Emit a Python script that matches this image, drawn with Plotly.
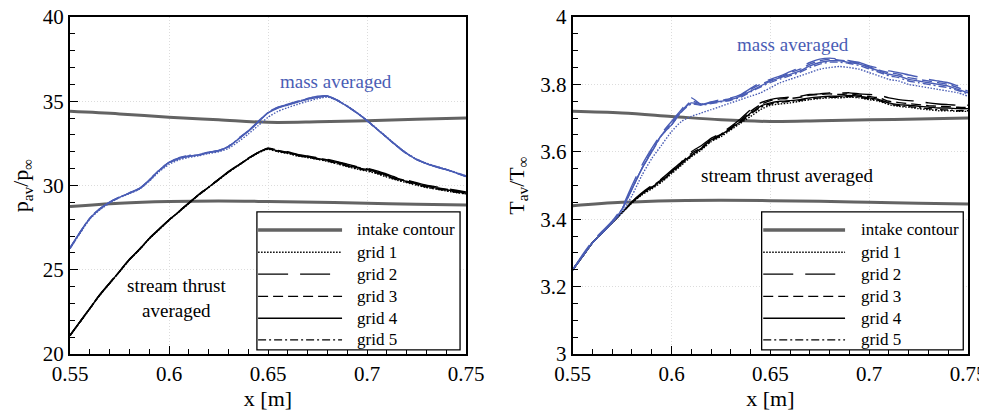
import plotly.graph_objects as go
from plotly.subplots import make_subplots

# ---------------- data ----------------
X = [0.55, 0.555, 0.56, 0.565, 0.57, 0.575, 0.58, 0.585, 0.59, 0.595,
     0.60, 0.605, 0.61, 0.615, 0.62, 0.625, 0.63, 0.635, 0.64, 0.645,
     0.65, 0.655, 0.66, 0.665, 0.67, 0.675, 0.68, 0.685, 0.69, 0.695,
     0.70, 0.705, 0.71, 0.715, 0.72, 0.725, 0.73, 0.735, 0.74, 0.745, 0.75]
X_INTAKE = [0.55, 0.575, 0.60, 0.625, 0.65, 0.675, 0.70, 0.725, 0.75]

# left panel: pressure ratio
p_intake_upper = [34.4, 34.25, 34.05, 33.9, 33.75, 33.78, 33.85, 33.93, 34.0]
p_intake_lower = [28.75, 28.95, 29.05, 29.08, 29.05, 29.0, 28.95, 28.88, 28.85]

p_mass_g1 = [26.25, 27.15, 28.0, 28.55, 28.95, 29.28, 29.52, 29.78, 30.25, 30.82, 31.25, 31.52, 31.66, 31.76, 31.9, 32.0, 32.2, 32.6, 33.05, 33.55, 34.05, 34.4, 34.62, 34.82, 35.0, 35.15, 35.25, 35.05, 34.72, 34.32, 33.87, 33.37, 32.87, 32.37, 31.92, 31.57, 31.32, 31.13, 30.96, 30.77, 30.57]
p_mass_g2 = [26.3, 27.22, 28.08, 28.62, 29.02, 29.32, 29.57, 29.83, 30.33, 30.93, 31.38, 31.64, 31.76, 31.84, 31.98, 32.08, 32.33, 32.8, 33.25, 33.8, 34.35, 34.65, 34.82, 35.0, 35.18, 35.3, 35.32, 35.07, 34.72, 34.3, 33.85, 33.35, 32.85, 32.35, 31.9, 31.55, 31.3, 31.1, 30.93, 30.74, 30.53]
p_mass_g3 = [26.27, 27.18, 28.04, 28.6, 29.0, 29.3, 29.55, 29.8, 30.3, 30.88, 31.33, 31.6, 31.74, 31.82, 31.96, 32.06, 32.3, 32.76, 33.22, 33.77, 34.32, 34.62, 34.8, 34.97, 35.15, 35.25, 35.31, 35.06, 34.71, 34.31, 33.86, 33.36, 32.86, 32.36, 31.91, 31.56, 31.31, 31.12, 30.95, 30.76, 30.56]
p_mass_g4 = [26.28, 27.2, 28.05, 28.6, 29.0, 29.3, 29.55, 29.8, 30.3, 30.9, 31.35, 31.6, 31.72, 31.8, 31.95, 32.05, 32.3, 32.75, 33.2, 33.75, 34.3, 34.6, 34.78, 34.95, 35.12, 35.22, 35.3, 35.05, 34.7, 34.3, 33.85, 33.35, 32.85, 32.35, 31.9, 31.55, 31.3, 31.12, 30.95, 30.75, 30.55]
p_mass_g5 = [26.29, 27.21, 28.06, 28.61, 29.01, 29.31, 29.56, 29.82, 30.32, 30.91, 31.37, 31.65, 31.78, 31.83, 31.97, 32.07, 32.31, 32.77, 33.22, 33.78, 34.33, 34.63, 34.8, 34.98, 35.16, 35.26, 35.3, 35.04, 34.69, 34.29, 33.84, 33.34, 32.84, 32.34, 31.89, 31.54, 31.29, 31.11, 30.94, 30.74, 30.54]

p_st_g1 = [21.08, 21.88, 22.68, 23.48, 24.18, 24.88, 25.58, 26.18, 26.83, 27.38, 27.93, 28.43, 28.93, 29.43, 29.88, 30.33, 30.78, 31.18, 31.58, 31.92, 32.15, 32.0, 31.9, 31.75, 31.65, 31.55, 31.43, 31.28, 31.12, 30.97, 30.85, 30.7, 30.5, 30.32, 30.17, 30.02, 29.88, 29.78, 29.68, 29.58, 29.5]
p_st_g2 = [21.12, 21.92, 22.72, 23.52, 24.22, 24.92, 25.62, 26.22, 26.87, 27.42, 27.97, 28.47, 28.97, 29.47, 29.92, 30.37, 30.82, 31.22, 31.62, 31.97, 32.22, 32.1, 32.0, 31.85, 31.75, 31.65, 31.55, 31.42, 31.27, 31.12, 31.02, 30.87, 30.67, 30.47, 30.32, 30.17, 30.02, 29.92, 29.82, 29.72, 29.62]
p_st_g3 = [21.1, 21.9, 22.7, 23.5, 24.2, 24.9, 25.6, 26.2, 26.85, 27.4, 27.95, 28.45, 28.95, 29.45, 29.9, 30.35, 30.8, 31.2, 31.6, 31.95, 32.2, 32.08, 31.98, 31.82, 31.72, 31.62, 31.52, 31.38, 31.23, 31.08, 30.98, 30.83, 30.63, 30.43, 30.28, 30.13, 29.98, 29.88, 29.78, 29.68, 29.58]
p_st_g4 = [21.1, 21.9, 22.7, 23.5, 24.2, 24.9, 25.6, 26.2, 26.85, 27.4, 27.95, 28.45, 28.95, 29.45, 29.9, 30.35, 30.8, 31.2, 31.6, 31.95, 32.2, 32.05, 31.95, 31.8, 31.7, 31.6, 31.5, 31.35, 31.2, 31.05, 30.95, 30.8, 30.6, 30.4, 30.25, 30.1, 29.95, 29.85, 29.75, 29.65, 29.55]
p_st_g5 = [21.09, 21.89, 22.69, 23.49, 24.19, 24.89, 25.59, 26.19, 26.84, 27.39, 27.94, 28.44, 28.94, 29.44, 29.89, 30.34, 30.79, 31.19, 31.59, 31.94, 32.18, 32.02, 31.92, 31.77, 31.67, 31.57, 31.46, 31.31, 31.15, 31.0, 30.9, 30.74, 30.54, 30.35, 30.2, 30.05, 29.9, 29.8, 29.7, 29.6, 29.5]

# right panel: temperature ratio
t_intake_upper = [3.72, 3.715, 3.705, 3.695, 3.69, 3.692, 3.695, 3.697, 3.70]
t_intake_lower = [3.44, 3.45, 3.455, 3.456, 3.455, 3.453, 3.45, 3.447, 3.445]

t_mass_g1 = [3.25, 3.29, 3.33, 3.36, 3.39, 3.42, 3.47, 3.53, 3.58, 3.62, 3.66, 3.69, 3.705, 3.715, 3.725, 3.735, 3.745, 3.755, 3.765, 3.775, 3.79, 3.805, 3.815, 3.825, 3.835, 3.845, 3.85, 3.853, 3.85, 3.845, 3.835, 3.825, 3.815, 3.81, 3.80, 3.795, 3.79, 3.785, 3.78, 3.775, 3.765]
t_mass_g2 = [3.25, 3.295, 3.335, 3.365, 3.395, 3.435, 3.5, 3.56, 3.61, 3.655, 3.69, 3.725, 3.76, 3.74, 3.748, 3.755, 3.76, 3.77, 3.788, 3.805, 3.815, 3.825, 3.838, 3.85, 3.865, 3.875, 3.878, 3.875, 3.87, 3.865, 3.855, 3.848, 3.84, 3.835, 3.828, 3.822, 3.815, 3.81, 3.805, 3.795, 3.785]
t_mass_g3 = [3.25, 3.29, 3.33, 3.36, 3.39, 3.43, 3.49, 3.55, 3.605, 3.65, 3.685, 3.72, 3.75, 3.742, 3.747, 3.752, 3.758, 3.768, 3.785, 3.8, 3.812, 3.822, 3.835, 3.845, 3.86, 3.87, 3.875, 3.872, 3.868, 3.862, 3.852, 3.842, 3.835, 3.83, 3.82, 3.815, 3.81, 3.805, 3.8, 3.79, 3.78]
t_mass_g4 = [3.25, 3.29, 3.33, 3.36, 3.39, 3.43, 3.49, 3.55, 3.60, 3.65, 3.68, 3.72, 3.745, 3.74, 3.745, 3.75, 3.755, 3.765, 3.78, 3.795, 3.81, 3.82, 3.83, 3.84, 3.855, 3.865, 3.87, 3.87, 3.865, 3.86, 3.85, 3.84, 3.83, 3.825, 3.815, 3.81, 3.805, 3.80, 3.795, 3.785, 3.775]
t_mass_g5 = [3.25, 3.29, 3.33, 3.36, 3.39, 3.43, 3.49, 3.55, 3.6, 3.648, 3.68, 3.718, 3.742, 3.738, 3.743, 3.748, 3.753, 3.762, 3.778, 3.792, 3.806, 3.816, 3.826, 3.836, 3.85, 3.86, 3.866, 3.866, 3.862, 3.856, 3.846, 3.836, 3.826, 3.82, 3.81, 3.805, 3.8, 3.795, 3.79, 3.782, 3.772]

t_st_g1 = [3.25, 3.29, 3.33, 3.36, 3.39, 3.42, 3.448, 3.472, 3.49, 3.51, 3.535, 3.56, 3.585, 3.605, 3.63, 3.645, 3.665, 3.685, 3.705, 3.725, 3.738, 3.742, 3.745, 3.75, 3.755, 3.758, 3.76, 3.76, 3.762, 3.76, 3.755, 3.75, 3.74, 3.735, 3.732, 3.728, 3.725, 3.722, 3.722, 3.72, 3.72]
t_st_g2 = [3.25, 3.29, 3.33, 3.36, 3.39, 3.42, 3.452, 3.478, 3.5, 3.52, 3.545, 3.57, 3.6, 3.618, 3.64, 3.655, 3.675, 3.698, 3.725, 3.745, 3.755, 3.76, 3.762, 3.765, 3.77, 3.772, 3.775, 3.774, 3.775, 3.772, 3.77, 3.768, 3.76, 3.755, 3.752, 3.75, 3.745, 3.742, 3.74, 3.738, 3.738]
t_st_g3 = [3.25, 3.29, 3.33, 3.36, 3.39, 3.42, 3.45, 3.476, 3.497, 3.518, 3.542, 3.568, 3.595, 3.612, 3.637, 3.652, 3.672, 3.693, 3.72, 3.74, 3.752, 3.757, 3.758, 3.762, 3.768, 3.77, 3.772, 3.77, 3.772, 3.768, 3.764, 3.76, 3.75, 3.746, 3.743, 3.74, 3.737, 3.735, 3.734, 3.732, 3.732]
t_st_g4 = [3.25, 3.29, 3.33, 3.36, 3.39, 3.42, 3.45, 3.475, 3.495, 3.515, 3.54, 3.565, 3.59, 3.61, 3.635, 3.65, 3.67, 3.69, 3.715, 3.735, 3.745, 3.75, 3.752, 3.755, 3.76, 3.763, 3.765, 3.765, 3.767, 3.765, 3.76, 3.755, 3.745, 3.74, 3.738, 3.735, 3.733, 3.73, 3.73, 3.728, 3.728]
t_st_g5 = [3.25, 3.29, 3.33, 3.36, 3.39, 3.42, 3.449, 3.474, 3.493, 3.513, 3.538, 3.563, 3.588, 3.608, 3.632, 3.648, 3.668, 3.688, 3.712, 3.732, 3.742, 3.747, 3.75, 3.752, 3.757, 3.76, 3.762, 3.762, 3.764, 3.762, 3.757, 3.752, 3.742, 3.737, 3.734, 3.731, 3.728, 3.725, 3.724, 3.722, 3.722]

LEGEND_LABELS = ["intake contour", "grid 1", "grid 2", "grid 3", "grid 4", "grid 5"]

# ---------------- styles ----------------
BLUE = "#4a5db5"
GRAY = "#636363"
FONT = "Liberation Serif, Times New Roman, DejaVu Serif, serif"
DASHES = ["1.5px,1.5px", "30px,12px", "10px,5px", "solid", "8px,3px,2px,3px"]

fig = make_subplots(rows=1, cols=2)

def add_family(col, ys, color):
    for y, d in zip(ys, DASHES):
        fig.add_trace(go.Scatter(x=X, y=y, mode="lines", showlegend=False,
                                 line=dict(color=color, width=1.4, dash=d, shape="spline", smoothing=0.6)),
                      row=1, col=col)

for col, up, lo in [(1, p_intake_upper, p_intake_lower), (2, t_intake_upper, t_intake_lower)]:
    for y in (up, lo):
        fig.add_trace(go.Scatter(x=X_INTAKE, y=y, mode="lines", showlegend=False,
                                 line=dict(color=GRAY, width=3, shape="spline")), row=1, col=col)

add_family(1, [p_st_g1, p_st_g2, p_st_g3, p_st_g4, p_st_g5], "black")
add_family(1, [p_mass_g1, p_mass_g2, p_mass_g3, p_mass_g4, p_mass_g5], BLUE)
add_family(2, [t_st_g1, t_st_g2, t_st_g3, t_st_g4, t_st_g5], "black")
add_family(2, [t_mass_g1, t_mass_g2, t_mass_g3, t_mass_g4, t_mass_g5], BLUE)

# page body has an 8px margin: size the figure to the window and place the
# plot areas on the reference pixels
OFF = 8
W, H = 987 - OFF, 411 - OFF
xd1 = [(70 - OFF) / W, (466 - OFF) / W]
xd2 = [(572.7 - OFF) / W, (968 - OFF) / W]
yd = [(H - (354 - OFF)) / H, (H - (17 - OFF)) / H]

axis_common = dict(showline=True, linecolor="black", linewidth=2, mirror=True,
                   ticks="inside", ticklen=8, tickwidth=1.3, tickcolor="black",
                   showgrid=True, gridcolor="#dcdcdc", griddash="1px,2px", gridwidth=1,
                   zeroline=False, automargin=False, ticklabeloverflow="allow",
                   tickfont=dict(family=FONT, size=21, color="black"))

fig.update_xaxes(**axis_common, range=[0.55, 0.75], tickvals=[0.55, 0.6, 0.65, 0.7, 0.75],
                 ticktext=["0.55", "0.6", "0.65", "0.7", "0.75"],
                 minor=dict(ticks="inside", ticklen=5, tickcolor="black", dtick=0.01, tick0=0.55, showgrid=False),
                 title=dict(text="x [m]", font=dict(family=FONT, size=22, color="black"), standoff=3))
fig.update_xaxes(domain=xd1, row=1, col=1)
fig.update_xaxes(domain=xd2, row=1, col=2)

fig.update_yaxes(**axis_common)
fig.update_yaxes(domain=yd, range=[20, 40], tickvals=[20, 25, 30, 35, 40],
                 minor=dict(ticks="inside", ticklen=5, tickcolor="black", dtick=1, tick0=20, showgrid=False),
                 title=dict(text="p<sub>av</sub>/p<sub>∞</sub>", font=dict(family=FONT, size=22, color="black"), standoff=10),
                 row=1, col=1)
fig.update_yaxes(domain=yd, range=[3, 4], tickvals=[3, 3.2, 3.4, 3.6, 3.8, 4],
                 ticktext=["3", "3.2", "3.4", "3.6", "3.8", "4"],
                 minor=dict(ticks="inside", ticklen=5, tickcolor="black", dtick=0.05, tick0=3, showgrid=False),
                 title=dict(text="T<sub>av</sub>/T<sub>∞</sub>", font=dict(family=FONT, size=22, color="black"), standoff=10),
                 row=1, col=2)

# text labels
ann = [
    dict(x=0.6843, y=36.16, xref="x", yref="y", text="mass averaged", font=dict(color=BLUE)),
    dict(x=0.6039, y=23.3, xref="x", yref="y", text="stream thrust<br>averaged", font=dict(color="black")),
    dict(x=0.6616, y=3.917, xref="x2", yref="y2", text="mass averaged", font=dict(color=BLUE)),
    dict(x=0.6583, y=3.531, xref="x2", yref="y2", text="stream thrust averaged", font=dict(color="black")),
]
for a in ann:
    a["font"].update(family=FONT, size=19)
    a["showarrow"] = False
    fig.add_annotation(**a)

# hand-drawn legends (long line samples as in the reference)
shapes = []
entry_y = [0.368, 0.302, 0.237, 0.171, 0.106, 0.042]
legend_geom = [("x domain", "y domain", 0.472, 0.985, 0.475, 0.687, 0.72),
               ("x2 domain", "y2 domain", 0.478, 0.988, 0.482, 0.689, 0.725)]
for xr, yr, bx0, bx1, lx0, lx1, tx in legend_geom:
    shapes.append(dict(type="rect", xref=xr, yref=yr, x0=bx0, x1=bx1, y0=0.012, y1=0.422,
                       line=dict(color="black", width=1.3), fillcolor="white", layer="above"))
    styles = [dict(color=GRAY, width=3.5, dash="solid")] + \
             [dict(color="black", width=1.4, dash=d) for d in DASHES]
    for yy, st, lab in zip(entry_y, styles, LEGEND_LABELS):
        shapes.append(dict(type="line", xref=xr, yref=yr, x0=lx0, x1=lx1, y0=yy, y1=yy,
                           line=st, layer="above"))
        fig.add_annotation(x=tx, y=yy, xref=xr, yref=yr, text=lab, showarrow=False,
                           xanchor="left", yanchor="middle",
                           font=dict(family=FONT, size=17, color="black"))
fig.update_layout(shapes=shapes)

fig.update_layout(width=W, height=H, margin=dict(l=0, r=0, t=0, b=0),
                  plot_bgcolor="white", paper_bgcolor="white", showlegend=False)

fig.write_html("out.html")
